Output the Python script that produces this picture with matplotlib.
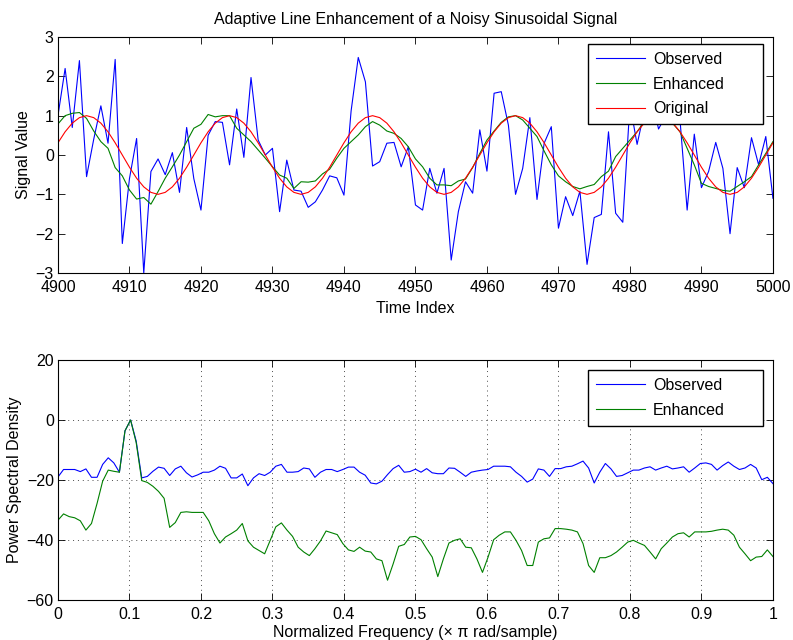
import numpy as np
import matplotlib
matplotlib.use("Agg")
import matplotlib.pyplot as plt

plt.rcParams['font.family'] = ['Liberation Sans', 'DejaVu Sans']
plt.rcParams['font.size'] = 11.5

# ---- dados do sinal (amostras 4900..5000) ----
indice = np.arange(4900, 5001)

observado = [1.0, 2.2, 0.7, 2.4, -0.55, 0.4, 1.25, 0.3, 2.43, -2.25,
             -0.6, 0.42, -3.0, -0.42, -0.1, -0.5, 0.06, -0.95, 0.7, -0.6,
             -1.4, 0.5, 0.85, 0.83, -0.25, 1.17, -0.06, 1.97, 0.38, 0.0,
             0.17, -1.44, -0.13, -0.89, -0.92, -1.33, -1.19, -0.89, -0.53, -0.58,
             -1.02, 1.12, 2.48, 1.86, -0.28, -0.17, 0.3, 0.32, -0.3, 0.21,
             -1.27, -1.4, -0.34, -0.97, -0.34, -2.67, -1.44, -0.68, -0.97, 0.64,
             -0.41, 1.57, 1.61, 0.76, -1.0, -0.34, 0.95, -1.13, 0.3, 0.72,
             -1.86, -1.06, -1.54, -0.92, -2.78, -1.59, -1.51, 0.59, -1.48, -1.71,
             1.3, 0.27, 1.1, 1.5, 0.66, 1.0, 1.4, 0.9, -1.4, 0.53,
             -0.83, -0.42, 0.32, -0.34, -2.0, -0.32, -0.83, 0.44, -0.25, 0.47,
             -1.1]

melhorado = [0.79, 1.0, 1.06, 1.08, 0.93, 0.61, 0.34, 0.17, -0.32, -0.53,
             -0.89, -1.12, -1.08, -1.25, -0.93, -0.59, -0.3, 0.0, 0.34, 0.68,
             0.78, 1.03, 0.97, 1.0, 1.0, 0.68, 0.51, 0.34, 0.13, -0.08,
             -0.3, -0.51, -0.59, -0.85, -0.68, -0.69, -0.66, -0.48, -0.36, -0.08,
             0.17, 0.34, 0.51, 0.72, 0.85, 0.76, 0.61, 0.55, 0.42, 0.21,
             -0.1, -0.3, -0.59, -0.76, -0.76, -0.78, -0.66, -0.61, -0.32, 0.04,
             0.38, 0.61, 0.83, 0.97, 1.0, 0.89, 0.68, 0.47, 0.1, -0.25,
             -0.53, -0.68, -0.8, -0.86, -0.8, -0.75, -0.55, -0.41, -0.04, 0.17,
             0.38, 0.59, 0.85, 0.95, 1.0, 0.95, 0.8, 0.59, 0.17, -0.25,
             -0.72, -0.8, -0.85, -0.9, -0.92, -0.8, -0.68, -0.55, -0.25, 0.04,
             0.34]

original = [0.31, 0.59, 0.81, 0.95, 1.0, 0.95, 0.81, 0.59, 0.31, 0.0,
            -0.31, -0.59, -0.81, -0.95, -1.0, -0.95, -0.81, -0.59, -0.31, 0.0,
            0.31, 0.59, 0.81, 0.95, 1.0, 0.95, 0.81, 0.59, 0.31, 0.0,
            -0.31, -0.59, -0.81, -0.95, -1.0, -0.95, -0.81, -0.59, -0.31, 0.0,
            0.31, 0.59, 0.81, 0.95, 1.0, 0.95, 0.81, 0.59, 0.31, 0.0,
            -0.31, -0.59, -0.81, -0.95, -1.0, -0.95, -0.81, -0.59, -0.31, 0.0,
            0.31, 0.59, 0.81, 0.95, 1.0, 0.95, 0.81, 0.59, 0.31, 0.0,
            -0.31, -0.59, -0.81, -0.95, -1.0, -0.95, -0.81, -0.59, -0.31, 0.0,
            0.31, 0.59, 0.81, 0.95, 1.0, 0.95, 0.81, 0.59, 0.31, 0.0,
            -0.31, -0.59, -0.81, -0.95, -1.0, -0.95, -0.81, -0.59, -0.31, 0.0,
            0.31]

# ---- densidade espectral (129 bins, 0..1) ----
psd_observado = [-19, -16.5, -16.5, -16.5, -17.2, -16.3, -19.1, -19.1, -14.8, -12.6,
                 -14.3, -17.4, -3.6, 0, -7, -19.3, -18.8, -17.1, -15.7, -16.1,
                 -18.5, -16.3, -15.4, -17.6, -19, -18.3, -17.4, -17.4, -16.7, -15.4,
                 -16.1, -19.3, -19.3, -18, -21.9, -19.3, -17.9, -18.5, -17.4, -15.4,
                 -14.8, -17.4, -17.4, -17.2, -16, -16.3, -19.1, -17.4, -16.5, -16.5,
                 -17.2, -16.5, -15.7, -15.7, -17.4, -18.4, -21, -21.3, -20.4, -18.2,
                 -16.2, -15.1, -17.4, -17.2, -16.4, -17.4, -16.2, -17.6, -17.9, -17.9,
                 -16, -16.1, -17.4, -18.8, -17.4, -17, -16.7, -16.5, -15.4, -15.4,
                 -15.4, -15.6, -17.4, -18.8, -20.7, -19.7, -16.3, -16.7, -18.8, -16.2,
                 -16.2, -15.6, -15.4, -14.6, -13.7, -16, -21, -17.4, -14.5, -16.3,
                 -18.8, -18.5, -17.6, -16.7, -16.7, -16, -15.6, -16.7, -16, -15.4,
                 -16.3, -16, -15.6, -17.4, -16, -14.5, -14.3, -14.8, -16.7, -15.2,
                 -14.0, -15.4, -16.5, -16, -14.8, -16, -19.9, -19.1, -21.2]

psd_melhorado = [-33.4, -31.3, -32.2, -32.6, -33.6, -36.7, -34.5, -27.8, -20.4, -16.7,
                 -17.1, -17.4, -3.6, 0, -7.5, -20.2, -20.8, -22.1, -23.8, -26.1,
                 -35.8, -34.2, -30.8, -30.6, -30.8, -30.8, -30.8, -33.6, -37.9, -41,
                 -39, -37.9, -36.7, -34.5, -40.3, -42.4, -43.5, -44.6, -40.1, -35.6,
                 -34.3, -36.7, -38.8, -42.4, -44, -45.2, -42.9, -40.3, -37, -37.6,
                 -38.2, -41.2, -43.3, -43.8, -42.4, -43.7, -44, -46.3, -46.9, -53.4,
                 -48, -42.1, -41.5, -39, -38.8, -39.9, -42.9, -45.7, -52.2, -46.3,
                 -41, -40.1, -39.6, -42.4, -42.6, -46.3, -50.8, -45.7, -39.9, -38.4,
                 -37.3, -37.3, -40.1, -43.5, -48.5, -48.5, -40.7, -39.6, -39.3, -36.2,
                 -36.2, -36.4, -36.7, -37.3, -41.2, -48.5, -50.8, -45.9, -45.9, -45.2,
                 -44, -42.4, -40.7, -40.1, -41, -41.8, -44, -46.3, -42.9, -41,
                 -39, -37.9, -37.6, -39, -37.3, -37.3, -37.3, -37.1, -36.7, -36.4,
                 -36.7, -38.4, -42.4, -44.6, -46.9, -45.7, -45.5, -43.3, -45.5]

frequencia = np.arange(len(psd_observado)) / (len(psd_observado) - 1)

azul = (0, 0, 1)
verde = (0, 0.5, 0)
vermelho = (1, 0, 0)


def estilo_matlab(ax):
    ax.tick_params(direction='in', length=5, width=0.6, top=True, right=True,
                   labelsize=11.5)
    ax.tick_params(axis='x', pad=5)
    ax.tick_params(axis='y', pad=3)
    for s in ax.spines.values():
        s.set_linewidth(0.8)


def legenda(ax, topo):
    # caixa larga como no MATLAB: expande ate a largura pedida
    leg = ax.legend(loc='upper left', bbox_to_anchor=(0.741, 0, 0.2448, topo),
                    mode='expand', fancybox=False, edgecolor='black', framealpha=1,
                    handlelength=3.1, handletextpad=0.5, borderpad=0.5,
                    labelspacing=0.6, borderaxespad=0, fontsize=11.5)
    leg.get_frame().set_linewidth(1.0)
    return leg


fig = plt.figure(figsize=(7.93, 6.4), dpi=100)

# ---- grafico do sinal ----
ax1 = fig.add_axes([0.0731, 0.5734, 0.9016, 0.3688])
ax1.plot(indice, observado, color=azul, linewidth=0.8, label='Observed')
ax1.plot(indice, melhorado, color=verde, linewidth=0.8, label='Enhanced')
ax1.plot(indice, original, color=vermelho, linewidth=0.8, label='Original')
ax1.set_xlim(4900, 5000)
ax1.set_ylim(-3, 3)
ax1.set_xticks(np.arange(4900, 5001, 10))
ax1.set_yticks(np.arange(-3, 4, 1))
ax1.set_xlabel('Time Index', labelpad=4)
ax1.set_ylabel('Signal Value', labelpad=3)
ax1.set_title('Adaptive Line Enhancement of a Noisy Sinusoidal Signal', fontsize=11.5, pad=9)
estilo_matlab(ax1)
legenda(ax1, 0.970)

# ---- grafico da PSD ----
ax2 = fig.add_axes([0.0731, 0.0625, 0.9016, 0.375])
ax2.plot(frequencia, psd_observado, color=azul, linewidth=0.8, label='Observed')
ax2.plot(frequencia, psd_melhorado, color=verde, linewidth=0.8, label='Enhanced')
ax2.set_xlim(0, 1)
ax2.set_ylim(-60, 20)
ax2.set_xticks(np.arange(0, 1.01, 0.1))
ax2.set_xticklabels(['0', '0.1', '0.2', '0.3', '0.4', '0.5', '0.6', '0.7', '0.8', '0.9', '1'])
ax2.set_yticks(np.arange(-60, 21, 20))
ax2.grid(True, linestyle=(0, (1, 4)), color='black', linewidth=0.7, alpha=0.7)
ax2.set_xlabel('Normalized Frequency (\u00d7 \u03c0 rad/sample)', labelpad=2)
ax2.set_ylabel('Power Spectral Density', labelpad=3)
estilo_matlab(ax2)
legenda(ax2, 0.958)

fig.savefig('out.png', dpi=100)
plt.close(fig)
